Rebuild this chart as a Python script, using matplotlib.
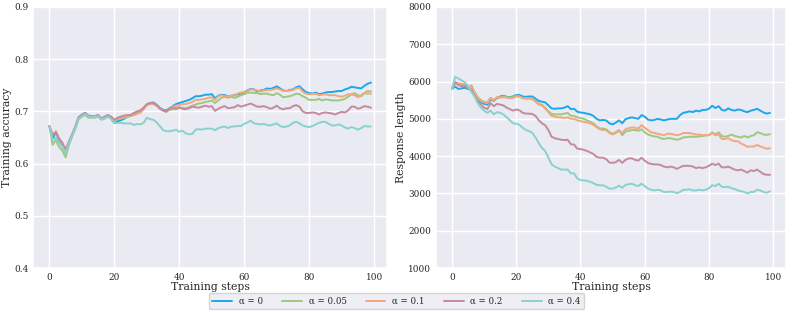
import matplotlib
matplotlib.use("Agg")
import matplotlib.pyplot as plt
import seaborn as sns
import numpy as np

# training steps 0..99
steps = np.arange(100)
alphas = ["0", "0.05", "0.1", "0.2", "0.4"]
colors = ["#1aa7ec", "#9cc97f", "#f2a77c", "#c48a9f", "#87d2cf"]

# training accuracy, one list per alpha
acc_a0 = [0.672, 0.648, 0.660, 0.645, 0.636, 0.622, 0.640, 0.655, 0.670, 0.688,
          0.693, 0.697, 0.691, 0.690, 0.690, 0.693, 0.686, 0.688, 0.692, 0.686,
          0.678, 0.681, 0.683, 0.686, 0.690, 0.693, 0.695, 0.698, 0.701, 0.706,
          0.713, 0.716, 0.717, 0.713, 0.707, 0.703, 0.702, 0.706, 0.710, 0.714,
          0.716, 0.718, 0.720, 0.722, 0.725, 0.729, 0.729, 0.730, 0.732, 0.732,
          0.733, 0.725, 0.730, 0.732, 0.731, 0.729, 0.730, 0.731, 0.733, 0.732,
          0.737, 0.740, 0.743, 0.742, 0.738, 0.740, 0.741, 0.744, 0.743, 0.745,
          0.748, 0.744, 0.740, 0.739, 0.741, 0.742, 0.746, 0.748, 0.742, 0.737,
          0.735, 0.734, 0.736, 0.733, 0.734, 0.736, 0.737, 0.737, 0.738, 0.739,
          0.739, 0.742, 0.744, 0.747, 0.746, 0.745, 0.744, 0.749, 0.753, 0.755]
acc_a005 = [0.672, 0.636, 0.645, 0.632, 0.625, 0.612, 0.635, 0.652, 0.667, 0.685,
            0.690, 0.693, 0.688, 0.688, 0.688, 0.690, 0.684, 0.686, 0.690, 0.688,
            0.682, 0.685, 0.686, 0.688, 0.689, 0.691, 0.693, 0.696, 0.698, 0.704,
            0.712, 0.714, 0.714, 0.711, 0.705, 0.701, 0.699, 0.703, 0.704, 0.704,
            0.706, 0.707, 0.706, 0.708, 0.711, 0.713, 0.715, 0.716, 0.718, 0.719,
            0.721, 0.716, 0.721, 0.726, 0.728, 0.726, 0.728, 0.726, 0.728, 0.731,
            0.733, 0.736, 0.736, 0.735, 0.735, 0.733, 0.734, 0.734, 0.732, 0.731,
            0.735, 0.732, 0.727, 0.728, 0.729, 0.731, 0.734, 0.733, 0.729, 0.726,
            0.722, 0.722, 0.722, 0.724, 0.721, 0.723, 0.722, 0.721, 0.721, 0.721,
            0.722, 0.724, 0.728, 0.733, 0.735, 0.731, 0.729, 0.735, 0.739, 0.738]
acc_a01 = [0.672, 0.655, 0.662, 0.648, 0.638, 0.625, 0.640, 0.655, 0.670, 0.687,
           0.692, 0.695, 0.690, 0.689, 0.690, 0.692, 0.686, 0.688, 0.691, 0.689,
           0.683, 0.686, 0.688, 0.690, 0.690, 0.693, 0.693, 0.695, 0.698, 0.705,
           0.713, 0.714, 0.715, 0.712, 0.706, 0.702, 0.700, 0.705, 0.709, 0.711,
           0.712, 0.714, 0.714, 0.716, 0.718, 0.722, 0.722, 0.723, 0.724, 0.726,
           0.727, 0.722, 0.729, 0.731, 0.729, 0.729, 0.730, 0.731, 0.734, 0.736,
           0.737, 0.739, 0.742, 0.742, 0.740, 0.738, 0.740, 0.741, 0.741, 0.742,
           0.744, 0.742, 0.739, 0.739, 0.740, 0.741, 0.744, 0.745, 0.738, 0.734,
           0.733, 0.733, 0.734, 0.731, 0.732, 0.733, 0.731, 0.731, 0.731, 0.729,
           0.728, 0.730, 0.733, 0.732, 0.731, 0.727, 0.731, 0.735, 0.734, 0.734]
acc_a02 = [0.672, 0.655, 0.660, 0.648, 0.640, 0.627, 0.642, 0.656, 0.671, 0.689,
           0.694, 0.697, 0.692, 0.691, 0.691, 0.693, 0.687, 0.690, 0.693, 0.690,
           0.684, 0.688, 0.690, 0.692, 0.693, 0.693, 0.697, 0.700, 0.702, 0.707,
           0.714, 0.716, 0.716, 0.712, 0.706, 0.702, 0.700, 0.705, 0.707, 0.706,
           0.708, 0.705, 0.704, 0.706, 0.709, 0.708, 0.707, 0.709, 0.711, 0.709,
           0.710, 0.701, 0.705, 0.708, 0.710, 0.706, 0.707, 0.708, 0.712, 0.709,
           0.711, 0.713, 0.715, 0.712, 0.709, 0.709, 0.710, 0.708, 0.705, 0.707,
           0.711, 0.706, 0.704, 0.706, 0.706, 0.710, 0.712, 0.709, 0.700, 0.697,
           0.697, 0.698, 0.697, 0.694, 0.697, 0.698, 0.697, 0.696, 0.694, 0.697,
           0.699, 0.698, 0.702, 0.709, 0.709, 0.705, 0.707, 0.710, 0.709, 0.707]
acc_a04 = [0.672, 0.645, 0.650, 0.640, 0.632, 0.620, 0.638, 0.654, 0.668, 0.686,
           0.691, 0.695, 0.690, 0.689, 0.690, 0.691, 0.685, 0.687, 0.690, 0.686,
           0.678, 0.678, 0.678, 0.677, 0.677, 0.677, 0.674, 0.676, 0.675, 0.678,
           0.688, 0.685, 0.684, 0.679, 0.672, 0.664, 0.662, 0.662, 0.663, 0.665,
           0.661, 0.663, 0.658, 0.656, 0.657, 0.665, 0.666, 0.665, 0.667, 0.667,
           0.667, 0.664, 0.668, 0.670, 0.671, 0.668, 0.671, 0.671, 0.672, 0.672,
           0.676, 0.679, 0.682, 0.677, 0.676, 0.675, 0.676, 0.674, 0.673, 0.675,
           0.677, 0.672, 0.670, 0.671, 0.673, 0.678, 0.680, 0.677, 0.673, 0.671,
           0.670, 0.672, 0.675, 0.678, 0.680, 0.680, 0.676, 0.673, 0.673, 0.675,
           0.673, 0.669, 0.667, 0.670, 0.668, 0.665, 0.668, 0.672, 0.671, 0.671]

# response length, one list per alpha
len_a0 = [5810, 5860, 5800, 5820, 5830, 5800, 5780, 5650, 5520, 5450,
          5400, 5380, 5520, 5480, 5560, 5600, 5620, 5590, 5580, 5600,
          5640, 5640, 5600, 5590, 5600, 5600, 5540, 5480, 5460, 5440,
          5360, 5280, 5270, 5280, 5280, 5300, 5340, 5260, 5270, 5190,
          5170, 5160, 5140, 5120, 5080, 5000, 4960, 4970, 4960, 4880,
          4850, 4900, 4960, 4880, 4990, 5020, 5040, 5020, 5000, 5100,
          5060, 4980, 4960, 4970, 5000, 4980, 4960, 4980, 5000, 5000,
          5000, 5100, 5160, 5180, 5200, 5180, 5220, 5200, 5240, 5240,
          5270, 5350, 5290, 5340, 5240, 5220, 5280, 5240, 5220, 5250,
          5240, 5200, 5180, 5220, 5240, 5270, 5220, 5170, 5140, 5160]
len_a005 = [5800, 5950, 5920, 5900, 5890, 5820, 5900, 5720, 5580, 5500,
            5460, 5440, 5560, 5490, 5560, 5580, 5600, 5580, 5570, 5580,
            5620, 5600, 5560, 5560, 5560, 5560, 5480, 5400, 5380, 5300,
            5200, 5130, 5120, 5120, 5120, 5140, 5160, 5080, 5080, 5040,
            5020, 5000, 4960, 4920, 4880, 4800, 4740, 4740, 4720, 4640,
            4600, 4640, 4700, 4560, 4660, 4680, 4700, 4700, 4680, 4720,
            4640, 4580, 4550, 4530, 4520, 4480, 4460, 4480, 4480, 4460,
            4440, 4460, 4500, 4510, 4520, 4520, 4520, 4530, 4540, 4560,
            4560, 4640, 4580, 4640, 4540, 4520, 4540, 4580, 4540, 4520,
            4500, 4540, 4500, 4540, 4560, 4640, 4620, 4580, 4570, 4590]
len_a01 = [5810, 5980, 5950, 5940, 5920, 5830, 5870, 5700, 5560, 5480,
           5440, 5420, 5560, 5500, 5580, 5570, 5580, 5570, 5550, 5560,
           5600, 5600, 5550, 5540, 5540, 5530, 5460, 5380, 5360, 5280,
           5180, 5080, 5060, 5040, 5040, 5020, 5040, 5000, 5000, 4960,
           4940, 4920, 4900, 4880, 4840, 4780, 4720, 4700, 4700, 4620,
           4580, 4620, 4680, 4620, 4720, 4750, 4770, 4760, 4740, 4830,
           4760, 4700, 4640, 4620, 4600, 4580, 4560, 4600, 4600, 4580,
           4560, 4580, 4620, 4620, 4620, 4600, 4580, 4580, 4560, 4560,
           4560, 4620, 4560, 4580, 4460, 4460, 4480, 4430, 4400, 4400,
           4340, 4300, 4250, 4260, 4260, 4300, 4260, 4230, 4200, 4210]
len_a02 = [5800, 5980, 5900, 5880, 5890, 5820, 5780, 5620, 5480, 5380,
           5300, 5260, 5420, 5340, 5400, 5380, 5360, 5300, 5260, 5220,
           5250, 5230, 5160, 5140, 5140, 5130, 5080, 4960, 4880, 4830,
           4700, 4520, 4480, 4460, 4440, 4430, 4440, 4320, 4310, 4200,
           4190, 4170, 4140, 4100, 4060, 3980, 3960, 3960, 3920, 3830,
           3820, 3840, 3900, 3820, 3900, 3940, 3940, 3900, 3880, 3960,
           3880, 3820, 3790, 3780, 3780, 3760, 3720, 3700, 3720, 3700,
           3660, 3700, 3740, 3740, 3740, 3720, 3680, 3700, 3680, 3700,
           3740, 3800, 3760, 3800, 3700, 3700, 3720, 3680, 3640, 3620,
           3640, 3600, 3560, 3620, 3600, 3640, 3580, 3520, 3500, 3500]
len_a04 = [5800, 6130, 6080, 6030, 5980, 5880, 5720, 5600, 5420, 5300,
           5220, 5160, 5220, 5120, 5180, 5160, 5120, 5040, 4960, 4880,
           4870, 4840, 4760, 4700, 4670, 4620, 4500, 4350, 4220, 4140,
           3960, 3780, 3720, 3680, 3640, 3640, 3640, 3540, 3540, 3400,
           3360, 3350, 3340, 3310, 3280, 3230, 3220, 3220, 3180, 3130,
           3130, 3160, 3210, 3150, 3230, 3250, 3260, 3220, 3200, 3260,
           3200, 3130, 3100, 3080, 3100, 3080, 3040, 3040, 3050, 3040,
           3010, 3040, 3100, 3100, 3110, 3080, 3080, 3100, 3080, 3100,
           3140, 3220, 3200, 3260, 3180, 3170, 3180, 3140, 3120, 3080,
           3060, 3040, 3000, 3040, 3040, 3100, 3080, 3040, 3020, 3060]

acc = [acc_a0, acc_a005, acc_a01, acc_a02, acc_a04]
resp = [len_a0, len_a005, len_a01, len_a02, len_a04]

sns.set_theme(style="darkgrid")
plt.rcParams["font.family"] = ["DejaVu Serif"]

fig = plt.figure(figsize=(7.93, 3.15), dpi=100)
ax1 = fig.add_axes([0.042, 0.149, 0.446, 0.829])
ax2 = fig.add_axes([0.550, 0.149, 0.441, 0.829])

for a, c, y in zip(alphas, colors, acc):
    ax1.plot(steps, y, color=c, lw=1.4, label="α = " + a)
for a, c, y in zip(alphas, colors, resp):
    ax2.plot(steps, y, color=c, lw=1.4)

ax1.set_ylim(0.4, 0.9)
ax1.set_yticks([0.4, 0.5, 0.6, 0.7, 0.8, 0.9])
ax1.set_ylabel("Training accuracy", fontsize=7.8, labelpad=1.5)
ax2.set_ylim(1000, 8000)
ax2.set_yticks(range(1000, 8001, 1000))
ax2.set_ylabel("Response length", fontsize=7.8, labelpad=1.5)

for ax in (ax1, ax2):
    ax.set_xticks([0, 20, 40, 60, 80, 100])
    ax.set_xlabel("Training steps", fontsize=7.8, labelpad=0)
    ax.tick_params(labelsize=6.4, length=0, pad=3.5)

fig.legend(loc="lower center", bbox_to_anchor=(0.5, 0.005), ncol=5,
           fontsize=6.2, handlelength=2.3, handletextpad=0.8,
           columnspacing=2.2, borderpad=0.4, frameon=True)

fig.savefig("out.png", dpi=100)
